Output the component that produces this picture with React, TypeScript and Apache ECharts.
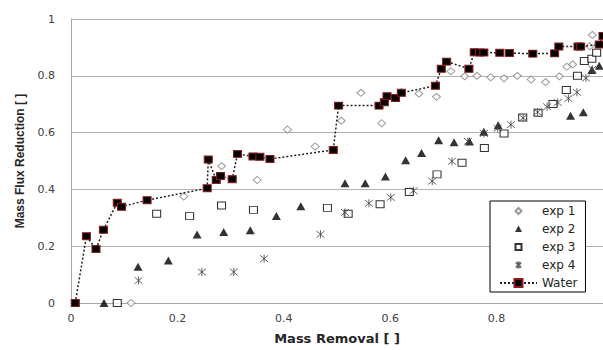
import React, { useEffect, useRef } from "react";
import * as echarts from "echarts";

const xTicks = [0, 0.2, 0.4, 0.6, 0.8, 1];
const yTicks = [0, 0.2, 0.4, 0.6, 0.8, 1];

const exp1: [number, number][] = [
  [0.113, 0], [0.212, 0.375], [0.283, 0.482], [0.35, 0.433], [0.407, 0.611], [0.459, 0.551],
  [0.508, 0.642], [0.545, 0.74], [0.584, 0.633], [0.621, 0.742], [0.654, 0.737], [0.687, 0.726],
  [0.714, 0.816], [0.74, 0.798], [0.763, 0.8], [0.789, 0.795], [0.814, 0.791], [0.839, 0.8],
  [0.865, 0.787], [0.892, 0.778], [0.918, 0.798], [0.932, 0.832], [0.943, 0.84], [0.975, 0.904],
  [0.98, 0.944],
];

const exp2: [number, number][] = [
  [0.062, 0], [0.126, 0.128], [0.183, 0.15], [0.237, 0.241], [0.287, 0.25], [0.337, 0.256],
  [0.386, 0.306], [0.432, 0.341], [0.515, 0.422], [0.553, 0.422], [0.591, 0.445], [0.629, 0.503],
  [0.659, 0.528], [0.691, 0.573], [0.72, 0.566], [0.749, 0.569], [0.776, 0.603], [0.803, 0.626],
  [0.939, 0.659], [0.963, 0.672], [0.979, 0.82], [0.993, 0.835],
];

const exp3: [number, number][] = [
  [0.087, 0], [0.161, 0.314], [0.223, 0.306], [0.283, 0.343], [0.343, 0.328], [0.482, 0.335],
  [0.521, 0.314], [0.581, 0.348], [0.636, 0.391], [0.688, 0.453], [0.735, 0.494], [0.777, 0.546],
  [0.814, 0.597], [0.849, 0.653], [0.878, 0.67], [0.906, 0.701], [0.931, 0.75], [0.952, 0.8],
  [0.965, 0.852], [0.979, 0.86], [0.988, 0.881],
];

const exp4: [number, number][] = [
  [0.127, 0.079], [0.246, 0.109], [0.306, 0.109], [0.363, 0.156], [0.469, 0.242], [0.515, 0.319],
  [0.56, 0.351], [0.601, 0.372], [0.644, 0.395], [0.679, 0.429], [0.716, 0.499], [0.746, 0.569],
  [0.776, 0.597], [0.802, 0.615], [0.827, 0.628], [0.85, 0.652], [0.877, 0.672], [0.895, 0.691],
  [0.915, 0.706], [0.935, 0.72], [0.951, 0.742], [0.968, 0.792], [0.98, 0.823],
];

const water: [number, number][] = [
  [0.008, 0], [0.029, 0.235], [0.047, 0.19], [0.061, 0.258], [0.087, 0.353], [0.095, 0.339],
  [0.143, 0.362], [0.256, 0.404], [0.258, 0.505], [0.273, 0.433], [0.281, 0.447], [0.303, 0.436],
  [0.313, 0.525], [0.342, 0.516], [0.355, 0.515], [0.374, 0.507], [0.493, 0.539], [0.503, 0.695],
  [0.579, 0.695], [0.589, 0.707], [0.594, 0.728], [0.61, 0.722], [0.621, 0.74], [0.685, 0.765],
  [0.696, 0.825], [0.706, 0.85], [0.748, 0.825], [0.758, 0.883], [0.768, 0.882], [0.776, 0.882],
  [0.806, 0.881], [0.824, 0.88], [0.868, 0.878], [0.909, 0.879], [0.917, 0.903], [0.953, 0.903],
  [0.958, 0.903], [0.993, 0.91], [1.0, 0.94],
];

const seriesNames = ["exp 1", "exp 2", "exp 3", "exp 4", "Water"];

const asterisk = "path://M0,0 L10,10 M10,0 L0,10 M5,-1 L5,11";

// legend icons drawn inside a 37x10 box so they stay small and centred
const legendIcons = [
  "path://M0,0 M37,10 M18.5,2 L21.5,5 L18.5,8 L15.5,5 Z",
  "path://M0,0 M37,10 M18.5,1.5 L22,8 L15,8 Z",
  "path://M0,0 M37,10 M15.5,2 L21.5,2 L21.5,8 L15.5,8 Z",
  "path://M0,0 M37,10 M16,2.5 L21,7.5 M21,2.5 L16,7.5 M18.5,1.5 L18.5,8.5",
];

export default function App() {
  const ref = useRef<HTMLDivElement>(null);
  useEffect(() => {
    if (!ref.current) return;
    const chart = echarts.init(ref.current, null, { renderer: "svg" });
    const tickFont = { fontFamily: "DejaVu Sans", fontSize: 11, color: "#404040" };
    chart.setOption({
      animation: false,
      backgroundColor: "#ffffff",
      grid: { left: 71, top: 19, width: 535, height: 288 },
      xAxis: {
        type: "value",
        min: xTicks[0],
        max: xTicks[xTicks.length - 1],
        interval: 0.2,
        name: "Mass Removal [ ]",
        nameLocation: "middle",
        nameGap: 29,
        nameTextStyle: { fontFamily: "DejaVu Sans", fontWeight: "bold", fontSize: 13, color: "#262626" },
        axisLine: { show: true, lineStyle: { color: "#a6a6a6", width: 1 } },
        axisTick: { show: false },
        splitLine: { show: false },
        axisLabel: { ...tickFont, margin: 10, showMaxLabel: false },
      },
      yAxis: {
        type: "value",
        min: yTicks[0],
        max: yTicks[yTicks.length - 1],
        interval: 0.2,
        name: "Mass Flux Reduction [ ]",
        nameLocation: "middle",
        nameGap: 45,
        nameRotate: 90,
        nameTextStyle: {
          fontFamily: "Liberation Sans Narrow, Liberation Sans",
          fontWeight: "bold",
          fontSize: 12,
          color: "#262626",
        },
        axisLine: { show: true, lineStyle: { color: "#a6a6a6", width: 1 } },
        axisTick: { show: false },
        splitLine: { show: true, lineStyle: { color: "#b3b3b3", width: 1 } },
        axisLabel: { ...tickFont, margin: 16 },
      },
      legend: {
        orient: "vertical",
        left: 490,
        top: 201,
        width: 93,
        padding: [4, 8, 3, 9],
        itemWidth: 37,
        itemHeight: 10,
        itemGap: 6,
        borderColor: "#000000",
        borderWidth: 1,
        backgroundColor: "#ffffff",
        textStyle: { fontFamily: "DejaVu Sans", fontSize: 12, color: "#262626" },
        data: [
          { name: seriesNames[0], icon: legendIcons[0] },
          { name: seriesNames[1], icon: legendIcons[1] },
          { name: seriesNames[2], icon: legendIcons[2] },
          { name: seriesNames[3], icon: legendIcons[3] },
          { name: seriesNames[4] },
        ],
      },
      series: [
        {
          name: seriesNames[0],
          type: "scatter",
          data: exp1,
          symbol: "diamond",
          symbolSize: [8, 7],
          itemStyle: { color: "#ffffff", borderColor: "#7f7f7f", borderWidth: 1 },
        },
        {
          name: seriesNames[1],
          type: "scatter",
          data: exp2,
          symbol: "triangle",
          symbolSize: [9, 8],
          itemStyle: { color: "#000000" },
        },
        {
          name: seriesNames[2],
          type: "scatter",
          data: exp3,
          symbol: "rect",
          symbolSize: [8, 7],
          itemStyle: { color: "#ffffff", borderColor: "#000000", borderWidth: 1 },
        },
        {
          name: seriesNames[3],
          type: "scatter",
          data: exp4,
          symbol: asterisk,
          symbolSize: 8,
          itemStyle: { color: "transparent", borderColor: "#404040", borderWidth: 1 },
        },
        {
          name: seriesNames[4],
          type: "line",
          data: water,
          symbol: "rect",
          symbolSize: [8, 7],
          showSymbol: true,
          lineStyle: { color: "#222222", width: 1.5, type: [2, 2] },
          itemStyle: { color: "#000000", borderColor: "#8b1a1a", borderWidth: 1 },
          z: 5,
        },
      ],
    });
    return () => chart.dispose();
  }, []);
  return <div ref={ref} style={{ width: 603, height: 350, position: "absolute", left: 0, top: 0 }} />;
}
